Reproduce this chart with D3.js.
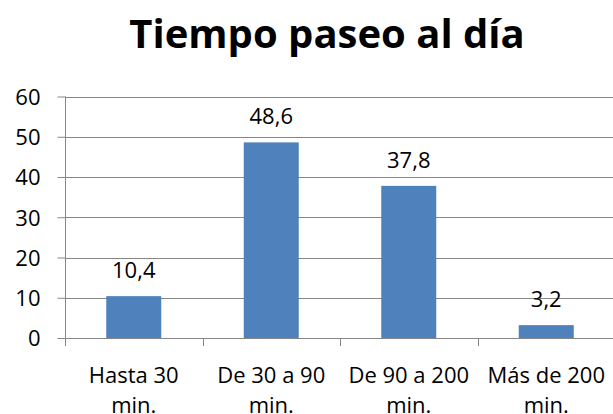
<!DOCTYPE html>
<html>
<head>
<meta charset="utf-8">
<script src="https://cdn.jsdelivr.net/npm/d3@7"></script>
<style>
  html, body { margin: 0; padding: 0; background: #fff; }
  svg { display: block; }
  text { font-family: "Open Sans", "Noto Sans", sans-serif; fill: #000; }
</style>
</head>
<body>
<svg id="chart" width="613" height="414"></svg>
<script>
// Chart data
const title = "Tiempo paseo al día";
const categories = [["Hasta 30", "min."], ["De 30 a 90", "min."], ["De 90 a 200", "min."], ["Más de 200", "min."]];
const values = [10.4, 48.6, 37.8, 3.2];
const yTicks = [0, 10, 20, 30, 40, 50, 60];

const W = 613, H = 414;
const plot = { left: 65, right: 615, top: 96.5, bottom: 338 };
const gridColor = "#868686";
const barColor = "#4F81BD";

const svg = d3.select("#chart");
const fmt = v => String(v).replace(".", ",");

const x = d3.scaleBand()
  .domain(d3.range(categories.length))
  .range([plot.left, plot.right])
  .paddingInner(0.6)
  .paddingOuter(0.3);

const y = d3.scaleLinear().domain([0, 60]).range([plot.bottom, plot.top]);

// Title
svg.append("text")
  .attr("x", 327).attr("y", 47.5)
  .attr("text-anchor", "middle")
  .style("font-size", "40px").style("font-weight", "bold")
  .text(title);

// Horizontal gridlines
svg.append("g").selectAll("line").data(yTicks.filter(t => t > 0)).join("line")
  .attr("x1", plot.left).attr("x2", W)
  .attr("y1", d => Math.round(y(d)) + 0.5).attr("y2", d => Math.round(y(d)) + 0.5)
  .attr("stroke", gridColor).attr("stroke-width", 1);

// Y axis
const yAxis = svg.append("g")
  .attr("transform", `translate(${plot.left + 0.5},0)`)
  .call(d3.axisLeft(y).tickValues(yTicks).tickSize(8).tickPadding(17).tickFormat(d3.format("d")));
yAxis.select(".domain").attr("stroke", gridColor).attr("d", `M0,${y(60)}V${plot.bottom + 8}`);
yAxis.selectAll(".tick line").attr("stroke", gridColor);
yAxis.selectAll(".tick text")
  .style("font-size", "22px").attr("font-family", null).attr("fill", "#000")
  .attr("dy", "0.36em");

// Bars
svg.append("g").selectAll("rect").data(values).join("rect")
  .attr("x", (d, i) => x(i))
  .attr("width", x.bandwidth())
  .attr("y", d => y(d))
  .attr("height", d => y(0) - y(d))
  .attr("fill", barColor);

// X axis baseline and category separators
const xg = svg.append("g");
xg.append("line")
  .attr("x1", plot.left).attr("x2", W)
  .attr("y1", Math.round(y(0)) + 0.5).attr("y2", Math.round(y(0)) + 0.5)
  .attr("stroke", gridColor);
xg.selectAll("line.sep").data(d3.range(categories.length)).join("line")
  .attr("class", "sep")
  .attr("x1", i => Math.round(x(i) - x.step() * x.paddingOuter()) + 0.5)
  .attr("x2", i => Math.round(x(i) - x.step() * x.paddingOuter()) + 0.5)
  .attr("y1", y(0)).attr("y2", y(0) + 8)
  .attr("stroke", gridColor);

// Category labels (two lines)
const lab = svg.append("g").selectAll("text").data(categories).join("text")
  .attr("text-anchor", "middle")
  .style("font-size", "22px");
lab.each(function(d, i) {
  const cx = x(i) + x.bandwidth() / 2;
  d3.select(this).selectAll("tspan").data(d).join("tspan")
    .attr("x", cx)
    .attr("y", (t, j) => 382.5 + j * 30.5)
    .text(t => t);
});

// Value labels
svg.append("g").selectAll("text").data(values).join("text")
  .attr("x", (d, i) => x(i) + x.bandwidth() / 2)
  .attr("y", d => y(d) - 18)
  .attr("text-anchor", "middle")
  .style("font-size", "22px")
  .text(fmt);
</script>
</body>
</html>
